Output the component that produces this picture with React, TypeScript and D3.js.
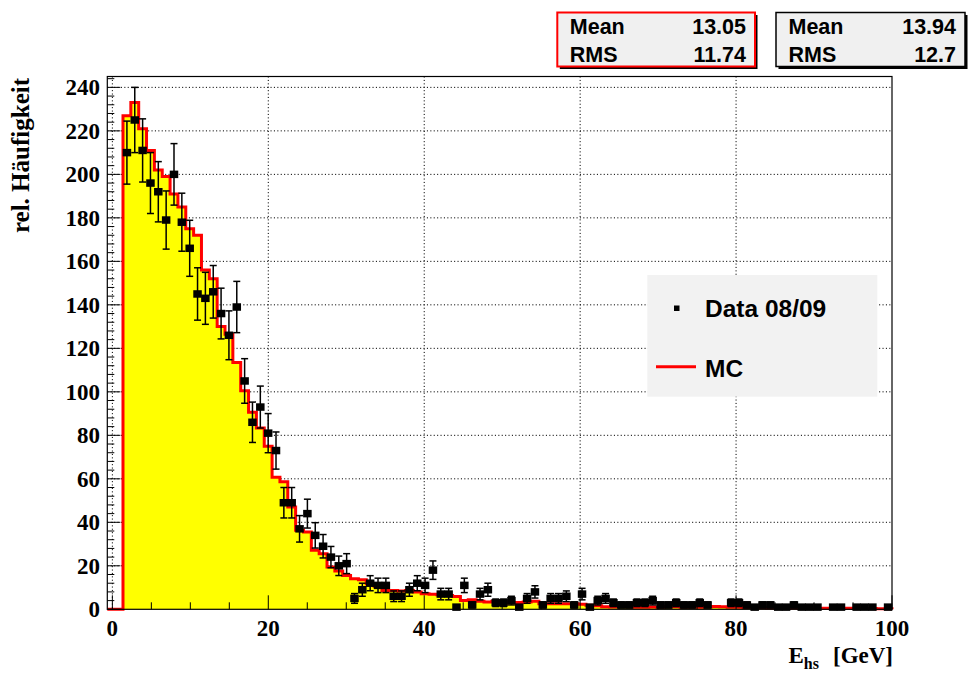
import React from 'react';
import * as d3 from 'd3';

// ---- data ----
const binCount = 100;
const xRange = [-0.65, 100];
const yRange = [0, 245];

const mcValues = [
  0, 0, 227, 233, 221, 211, 202, 199, 191, 185,
  175, 172, 156, 152, 130, 126.5, 113.5, 100.5, 90.6, 83.4,
  75, 60.7, 58.7, 47, 36.3, 35.5, 27.1, 25.6, 19.4, 17.6,
  15.5, 14, 13.6, 11.8, 10.6, 8.7, 8.7, 8.4, 8.7, 7.9,
  7.1, 6.9, 6.7, 6.4, 5.9, 4.1, 4.4, 3.7, 3.4, 3.7,
  3.4, 2.9, 3.1, 3.4, 3.7, 2.6, 2.6, 2.6, 2.6, 2.6,
  2.3, 1.9, 1.6, 1.2, 1.1, 1.6, 1.2, 1.0, 0.9, 1.1,
  1.0, 1.3, 1.2, 1.0, 0.9, 1.0, 1.2, 1.3, 1.2, 1.0,
  0.9, 0.8, 0.8, 0.7, 0.6, 0.6, 0.5, 0.6, 0.5, 0.6,
  0.5, 0.5, 0.5, 0.4, 0.5, 0.4, 0.4, 0.4, 0.3, 0.3,
];

const dataCounts = [
  0, 0, 210, 225, 211, 196, 192, 179, 200, 178,
  166, 145, 143, 146, 136, 126, 139, 105, 86, 93,
  81, 73, 49, 49, 37, 44, 34, 29, 24, 20,
  21, 5, 9, 12, 11, 11, 6, 6, 9, 12,
  11, 18, 7, 7, 1, 11, 2, 7, 9, 3,
  3, 4, 1, 5, 8, 2, 5, 5, 6, 2,
  7, 1, 4, 5, 3, 2, 2, 3, 3, 4,
  2, 2, 3, 2, 2, 3, 2, 0, 0, 3,
  3, 2, 1, 2, 2, 1, 1, 2, 1, 1,
  1, 0, 1, 1, 0, 1, 1, 1, 0, 1,
];

const xTickValues = [0, 20, 40, 60, 80, 100];
const xMinorStep = 5;
const yTickValues = [0, 20, 40, 60, 80, 100, 120, 140, 160, 180, 200, 220, 240];
const yMinorStep = 4;

const statsMC = { mean: '13.05', rms: '11.74' };
const statsData = { mean: '13.94', rms: '12.7' };
const legendLabels = ['Data 08/09', 'MC'];
const yTitle = 'rel. Häufigkeit';

// ---- layout ----
const W = 976;
const H = 675;
const frame = { left: 107.3, right: 892, top: 76.5, bottom: 609.3 };

export default function App() {
  const x = d3.scaleLinear().domain(xRange).range([frame.left, frame.right]);
  const y = d3.scaleLinear().domain(yRange).range([frame.bottom, frame.top]);
  const binW = (xRange[1] - xRange[0]) / binCount;
  const edge = (k: number) => xRange[0] + k * binW;

  const stepPts: [number, number][] = [[edge(0), 0]];
  mcValues.forEach((v, k) => {
    stepPts.push([edge(k), v]);
    stepPts.push([edge(k + 1), v]);
  });
  stepPts.push([edge(binCount), 0]);
  const line = d3.line<[number, number]>().x((d) => x(d[0])).y((d) => y(d[1]));
  const stepPath = line(stepPts) || '';

  const xMinor = d3.range(0, 100.001, xMinorStep).filter((v) => !xTickValues.includes(v));
  const yMinor = d3.range(0, 245, yMinorStep).filter((v) => !yTickValues.includes(v));

  const serif = '"Liberation Serif", "Times New Roman", serif';
  const sans = '"Liberation Sans", Arial, sans-serif';
  const dots = '1.1 2.3';

  const points = dataCounts
    .map((c, k) => ({ c, k }))
    .filter((d) => d.c > 0);

  const statsBox = (x0: number, x1: number, border: string, s: { mean: string; rms: string }) => (
    <g>
      <rect x={x0 + 2.5} y={12.5 + 2.5} width={x1 - x0} height={54} fill="#000" />
      <rect x={x0} y={12.5} width={x1 - x0} height={54} fill="#f0f0f0" stroke={border} strokeWidth={border === '#ff0000' ? 2 : 1.5} />
      <text x={x0 + 12.5} y={34.3} fontFamily={sans} fontWeight="bold" fontSize={21.5} fill="#000">Mean</text>
      <text x={x1 - 9} y={34.3} textAnchor="end" fontFamily={sans} fontWeight="bold" fontSize={21.5} fill="#000">{s.mean}</text>
      <text x={x0 + 12.5} y={61.7} fontFamily={sans} fontWeight="bold" fontSize={21.5} fill="#000">RMS</text>
      <text x={x1 - 9} y={61.7} textAnchor="end" fontFamily={sans} fontWeight="bold" fontSize={21.5} fill="#000">{s.rms}</text>
    </g>
  );

  return (
    <svg width={W} height={H} style={{ position: 'absolute', left: 0, top: 0, background: '#fff' }}>
      <rect x={0} y={0} width={W} height={H} fill="#fff" />
      {/* grid */}
      <g stroke="#000" strokeWidth={1} strokeDasharray={dots}>
        {xTickValues.filter((v) => v < 100).map((v) => (
          <line key={'gx' + v} x1={x(v)} x2={x(v)} y1={frame.top} y2={frame.bottom} />
        ))}
        {yTickValues.filter((v) => v > 0).map((v) => (
          <line key={'gy' + v} x1={frame.left} x2={frame.right} y1={y(v)} y2={y(v)} />
        ))}
      </g>
      {/* MC histogram */}
      <path d={stepPath + 'Z'} fill="#ffff00" stroke="none" />
      <path d={stepPath} fill="none" stroke="#ff0000" strokeWidth={3} strokeLinejoin="miter" />
      {/* frame */}
      <rect x={frame.left} y={frame.top} width={frame.right - frame.left} height={frame.bottom - frame.top} fill="none" stroke="#000" strokeWidth={1.2} />
      {/* ticks */}
      <g stroke="#000" strokeWidth={1}>
        {xTickValues.map((v) => (
          <line key={'tx' + v} x1={x(v)} x2={x(v)} y1={frame.bottom} y2={frame.bottom - 14} />
        ))}
        {xMinor.map((v) => (
          <line key={'mx' + v} x1={x(v)} x2={x(v)} y1={frame.bottom} y2={frame.bottom - 7} />
        ))}
        {yTickValues.map((v) => (
          <line key={'ty' + v} x1={frame.left} x2={frame.left + 13} y1={y(v)} y2={y(v)} />
        ))}
        {yMinor.map((v) => (
          <line key={'my' + v} x1={frame.left} x2={frame.left + 7} y1={y(v)} y2={y(v)} />
        ))}
      </g>
      {/* data points */}
      <g stroke="#000" strokeWidth={1.5} fill="#000">
        {points.map(({ c, k }) => {
          const cx = x(edge(k) + binW / 2);
          const e = Math.sqrt(c);
          const yt = y(c + e);
          const yb = y(Math.max(0, c - e));
          return (
            <g key={'p' + k}>
              <line x1={cx} x2={cx} y1={yt} y2={yb} />
              <line x1={cx - 3.5} x2={cx + 3.5} y1={yt} y2={yt} />
              <line x1={cx - 3.5} x2={cx + 3.5} y1={yb} y2={yb} />
              <rect x={cx - 4.25} y={y(c) - 3.75} width={8.5} height={7.5} stroke="none" />
            </g>
          );
        })}
      </g>
      {/* tick labels */}
      <g fontFamily={serif} fontWeight="bold" fontSize={23} fill="#000">
        {yTickValues.map((v) => (
          <text key={'ly' + v} x={100} y={y(v)} dy="0.35em" textAnchor="end">{v}</text>
        ))}
        {xTickValues.map((v) => (
          <text key={'lx' + v} x={x(v)} y={636} textAnchor="middle">{v}</text>
        ))}
      </g>
      {/* axis titles */}
      <text transform="translate(29,78) rotate(-90)" textAnchor="end" fontFamily={serif} fontWeight="bold" fontSize={25} fill="#000">{yTitle}</text>
      <text x={893} y={663} textAnchor="end" fontFamily={serif} fontWeight="bold" fontSize={23} fill="#000">
        <tspan>E</tspan>
        <tspan fontSize={16} dy={6}>hs</tspan>
        <tspan dy={-6} dx={14}>[GeV]</tspan>
      </text>
      {/* legend */}
      <rect x={647.3} y={275} width={230} height={121.7} fill="#f2f2f2" />
      <rect x={674} y={305.5} width={5.5} height={5.5} fill="#000" />
      <text x={705} y={316.7} fontFamily={sans} fontWeight="bold" fontSize={24.5} fill="#000">{legendLabels[0]}</text>
      <line x1={656} x2={696} y1={366.7} y2={366.7} stroke="#ff0000" strokeWidth={3} />
      <text x={705} y={376.7} fontFamily={sans} fontWeight="bold" fontSize={24.5} fill="#000">{legendLabels[1]}</text>
      {/* stats boxes */}
      {statsBox(557.3, 755, '#ff0000', statsMC)}
      {statsBox(776, 965, '#000', statsData)}
    </svg>
  );
}
